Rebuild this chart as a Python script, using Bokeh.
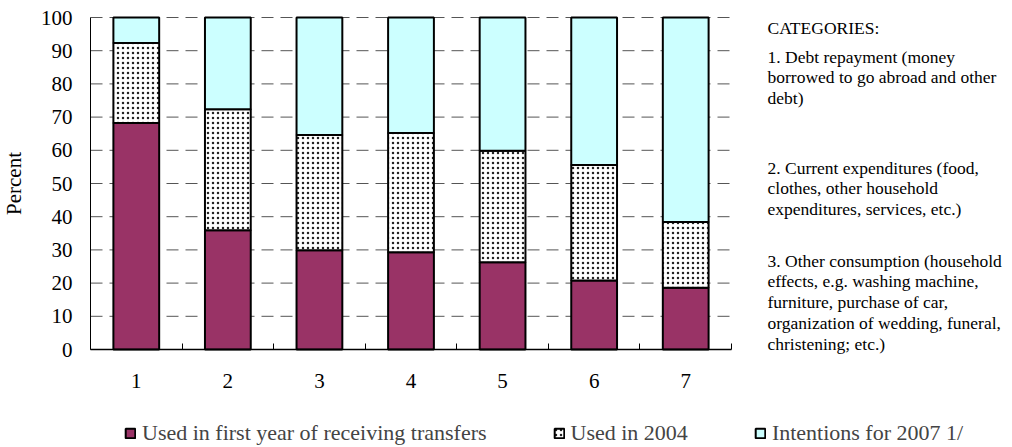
from bokeh.plotting import figure
from bokeh.models import FixedTicker, Label, Legend, LegendItem, ColumnDataSource, Range1d, LinearAxis
from bokeh.embed import file_html
from bokeh.resources import INLINE

# ---- data ----
categories = ["1", "2", "3", "4", "5", "6", "7"]
first_year = [68.2, 35.9, 29.9, 29.3, 26.3, 20.8, 18.6]
used_2004 = [24.1, 36.5, 34.7, 35.9, 33.6, 34.8, 19.8]
intentions = [7.7, 27.6, 35.4, 34.8, 40.1, 44.4, 61.6]
series_names = ["Used in first year of receiving transfers", "Used in 2004", "Intentions for 2007 1/"]
y_ticks = [0, 10, 20, 30, 40, 50, 60, 70, 80, 90, 100]
y_title = "Percent"
notes_title = "CATEGORIES:"
notes_paragraphs = [
    ["1. Debt repayment (money", "borrowed to go abroad and other", "debt)"],
    ["2. Current expenditures (food,", "clothes, other household", "expenditures, services, etc.)"],
    ["3. Other consumption (household", "effects, e.g. washing machine,", "furniture, purchase of car,",
     "organization of wedding, funeral,", "christening; etc.)"],
]

# ---- layout constants (pixels) ----
FONT = "Liberation Serif"
PLOT_W = 641          # width of the bar area
PLOT_H = 332          # height of the bar area
LEFT = 90             # bar area left edge in the canvas
TOP = 17              # bar area top edge in the canvas
CANVAS_W = 1012
CANVAS_H = 447
n = len(categories)
px_x = PLOT_W / n
px_y = PLOT_H / 100.0
x_start = -LEFT / px_x
x_end = (CANVAS_W - LEFT) / px_x
y_end = 100 + TOP / px_y
y_start = -(CANVAS_H - TOP - PLOT_H) / px_y

xs = [i + 0.5 for i in range(n)]
src = ColumnDataSource(dict(x=xs, first=first_year, used=used_2004, intent=intentions))

p = figure(frame_width=CANVAS_W, frame_height=CANVAS_H,
           x_range=Range1d(x_start, x_end), y_range=Range1d(y_start, y_end),
           output_backend="svg", toolbar_location=None,
           x_axis_type=None, y_axis_type=None,
           min_border=0, min_border_left=0, min_border_right=0,
           min_border_top=0, min_border_bottom=0)
p.outline_line_color = None
p.background_fill_color = "white"
p.border_fill_color = "white"
p.xgrid.visible = False
p.ygrid.visible = False

# dashed grid lines across the bar area only
grid_y = y_ticks[1:]
p.segment(x0=[0] * len(grid_y), x1=[n] * len(grid_y), y0=grid_y, y1=grid_y,
          line_color="#555555", line_dash="12 7", line_width=1, level="underlay")

rs = p.vbar_stack(["first", "used", "intent"], x="x", width=0.5, source=src,
                  fill_color=["#993366", "white", "#CCFFFF"],
                  hatch_pattern=[" ", "dot", " "],
                  hatch_color="#222222", hatch_scale=5, hatch_weight=0.6,
                  line_color="black", line_width=2)

# axes (fixed at the data origin)
xaxis = LinearAxis(fixed_location=0, bounds=(0, n),
                   ticker=FixedTicker(ticks=xs, minor_ticks=list(range(n + 1))),
                   major_label_overrides={x: c for x, c in zip(xs, categories)},
                   major_tick_in=0, major_tick_out=0,
                   minor_tick_in=6, minor_tick_out=0, minor_tick_line_color="black",
                   major_label_standoff=24, axis_line_color="black", axis_line_width=1.5)
yaxis = LinearAxis(fixed_location=0, bounds=(0, 100),
                   ticker=FixedTicker(ticks=y_ticks),
                   major_tick_in=0, major_tick_out=0, minor_tick_line_color=None,
                   major_label_standoff=18, axis_line_color="black",
                   axis_label=y_title, axis_label_standoff=12,
                   axis_label_text_font_style="normal")
for ax in (xaxis, yaxis):
    ax.major_label_text_font = FONT
    ax.major_label_text_font_size = "21px"
    ax.major_label_text_color = "black"
    ax.axis_label_text_font = FONT
    ax.axis_label_text_font_size = "21px"
    ax.axis_label_text_color = "black"
p.add_layout(xaxis, "below")
p.add_layout(yaxis, "left")

# legend below the plot
legend = Legend(items=[LegendItem(label=nm, renderers=[r]) for nm, r in zip(series_names, rs)],
                orientation="horizontal", location=(124, 1),
                padding=0, margin=0, spacing=66, label_standoff=6,
                glyph_width=12, glyph_height=12,
                border_line_color=None, background_fill_alpha=0,
                label_text_font=FONT, label_text_font_size="22px")
p.add_layout(legend, "center")

# notes at the right (vertical centres of the lines, in pixels from the top)
x_note = (767 - LEFT) / px_x
title_mid = 27
para_mids = [56, 167, 260]
step = 20.8


def add_note(text, mid):
    p.add_layout(Label(x=x_note, y=(TOP + PLOT_H - mid) / px_y, text=text,
                       text_font=FONT, text_font_size="17.5px", text_color="black",
                       text_baseline="middle", text_align="left"))


add_note(notes_title, title_mid)
for para, m0 in zip(notes_paragraphs, para_mids):
    for j, line in enumerate(para):
        add_note(line, m0 + j * step)

open("out.html", "w").write(file_html(p, INLINE))
